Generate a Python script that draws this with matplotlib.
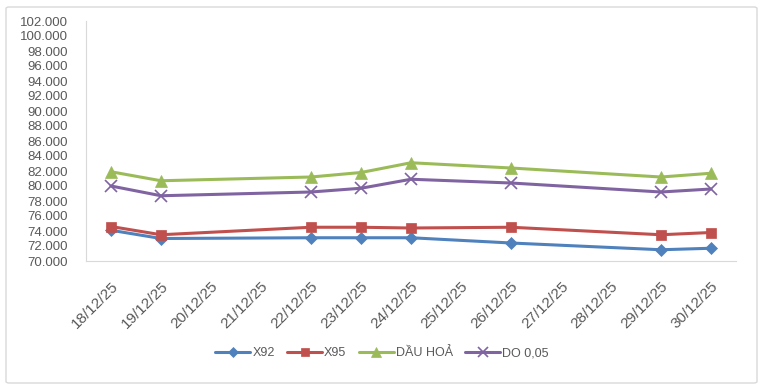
import matplotlib
matplotlib.use("Agg")
import matplotlib.pyplot as plt
import matplotlib.dates as mdates
from matplotlib.patches import FancyBboxPatch
from matplotlib.ticker import FuncFormatter, MultipleLocator
import pandas as pd

# Data (VND per litre)
dates = pd.to_datetime(["2025-12-18", "2025-12-19", "2025-12-22", "2025-12-23",
                        "2025-12-24", "2025-12-26", "2025-12-29", "2025-12-30"])
x92 = [74100, 73000, 73100, 73100, 73100, 72400, 71500, 71700]
x95 = [74600, 73500, 74500, 74500, 74400, 74500, 73500, 73800]
dau_hoa = [81900, 80700, 81200, 81800, 83100, 82400, 81200, 81700]
do_005 = [80000, 78700, 79200, 79700, 80900, 80400, 79200, 79600]
series_names = ["X92", "X95", "DẦU HOẢ", "DO 0,05"]

plt.rcParams['font.family'] = ['Liberation Sans', 'DejaVu Sans']

# Creating the figure
fig = plt.figure(figsize=(7.63, 3.89), dpi=100)
ax = fig.add_axes([86 / 763, 1 - 261 / 389, (736 - 86) / 763, (261 - 21) / 389])

# Chart area border
fig.patches.append(FancyBboxPatch((6 / 763, 6 / 389), 751 / 763, 376 / 389,
                                  boxstyle="round,pad=0,rounding_size=0.004",
                                  transform=fig.transFigure, fill=False,
                                  edgecolor="#D9D9D9", linewidth=1))

# Adding data to the axis
styles = [("#4F81BD", "D", 6), ("#C0504D", "s", 7), ("#9BBB59", "^", 8), ("#8064A2", "x", 8)]
for values, name, (color, marker, ms) in zip([x92, x95, dau_hoa, do_005], series_names, styles):
    ax.plot(dates, values, color=color, linewidth=2.2, marker=marker, markersize=ms,
            markeredgewidth=1.2 if marker == "x" else 0.5, label=name, solid_capstyle="round")

# Customizing axis
ax.set_ylim(70000, 102000)
ax.yaxis.set_major_locator(MultipleLocator(2000))
ax.yaxis.set_major_formatter(FuncFormatter(lambda v, p: f"{v:,.0f}".replace(",", ".")))
ax.set_xlim(pd.Timestamp("2025-12-17 12:00"), pd.Timestamp("2025-12-30 12:00"))
ax.xaxis.set_major_locator(mdates.DayLocator())
ax.xaxis.set_major_formatter(mdates.DateFormatter("%d/%m/%y"))
ax.tick_params(axis="both", length=0, colors="#595959")
ax.tick_params(axis="y", labelsize=9.5, pad=13)
ax.tick_params(axis="x", labelsize=11, pad=13)
for lbl in ax.get_xticklabels():
    lbl.set_rotation(45)
    lbl.set_ha("right")
    lbl.set_rotation_mode("anchor")
for side in ["top", "right"]:
    ax.spines[side].set_visible(False)
for side in ["left", "bottom"]:
    ax.spines[side].set_color("#D9D9D9")

fig.legend(loc="center", bbox_to_anchor=(382 / 763, 1 - 353 / 389), ncol=4, frameon=False,
           fontsize=9, labelcolor="#595959", handlelength=2.8, handletextpad=0.15,
           columnspacing=1.0, markerscale=0.85)

# Saving the chart
plt.savefig("out.png")
plt.close()
